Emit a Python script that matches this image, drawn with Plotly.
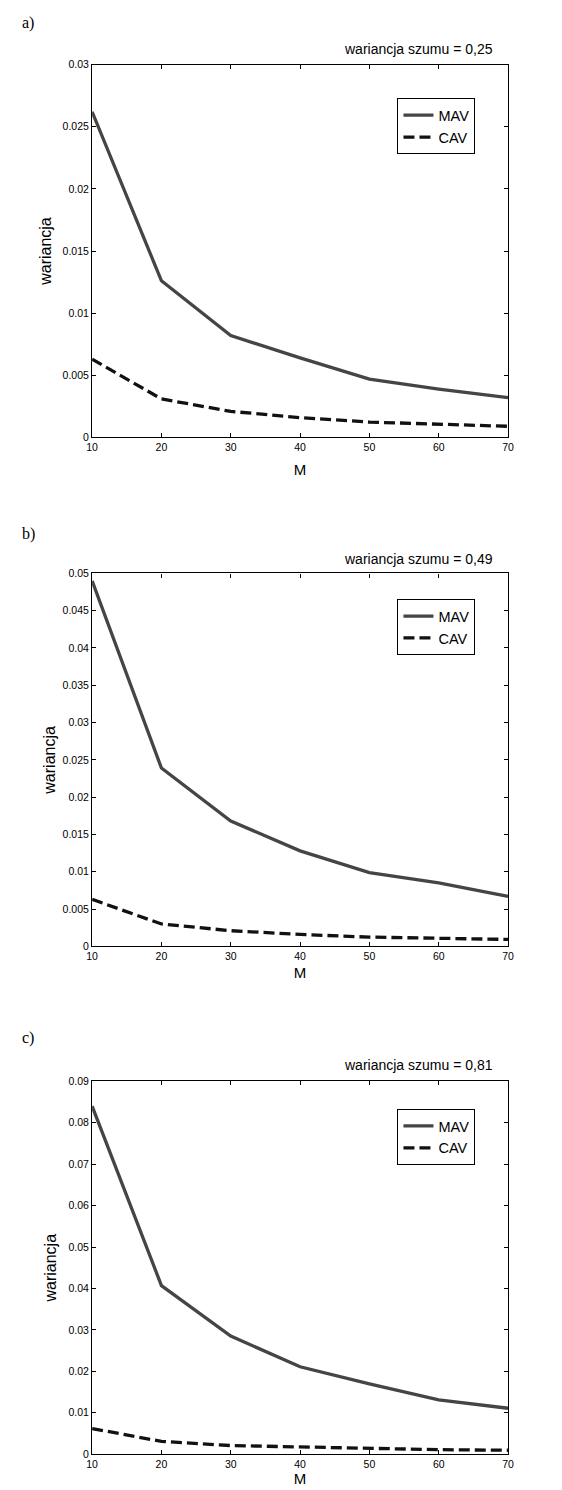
import plotly.graph_objects as go

# ---------------- data ----------------
M = [10, 20, 30, 40, 50, 60, 70]

mav_a = [0.0262, 0.0126, 0.0082, 0.0064, 0.0047, 0.0039, 0.0032]
cav_a = [0.0063, 0.0031, 0.0021, 0.0016, 0.00124, 0.00107, 0.0009]

mav_b = [0.0490, 0.0239, 0.0168, 0.0128, 0.0099, 0.0085, 0.0067]
cav_b = [0.0063, 0.0030, 0.0021, 0.0016, 0.00124, 0.00106, 0.00093]

mav_c = [0.0840, 0.0407, 0.0285, 0.0211, 0.0170, 0.0131, 0.0111]
cav_c = [0.0062, 0.0031, 0.0021, 0.00175, 0.00135, 0.0011, 0.00096]

x_ticks = [10, 20, 30, 40, 50, 60, 70]

y_ticks_a = [0, 0.005, 0.01, 0.015, 0.02, 0.025, 0.03]
y_text_a = ["0", "0.005", "0.01", "0.015", "0.02", "0.025", "0.03"]
y_ticks_b = [0, 0.005, 0.01, 0.015, 0.02, 0.025, 0.03, 0.035, 0.04, 0.045, 0.05]
y_text_b = ["0", "0.005", "0.01", "0.015", "0.02", "0.025", "0.03", "0.035", "0.04", "0.045", "0.05"]
y_ticks_c = [0, 0.01, 0.02, 0.03, 0.04, 0.05, 0.06, 0.07, 0.08, 0.09]
y_text_c = ["0", "0.01", "0.02", "0.03", "0.04", "0.05", "0.06", "0.07", "0.08", "0.09"]

panel_labels = ["a)", "b)", "c)"]
panel_titles = ["wariancja szumu = 0,25", "wariancja szumu = 0,49", "wariancja szumu = 0,81"]
series_names = ["MAV", "CAV"]
y_title = "wariancja"
x_title = "M"

# ---------------- layout geometry (pixels) ----------------
W, H = 562, 1490
PX_L, PX_R = 88, 513
panels_px = [  # (top, bottom) of plot area
    (59, 435),
    (572, 948),
    (1084, 1460),
]
label_y = [17, 532, 1040]
title_y = [43, 557, 1068]
legend_top = [93, 598, 1112]
y_standoff = [6, 2, 7]
x_standoff = [12, 6, 2]

def py(v):
    return 1 - v / H

fig = go.Figure()

data = [(mav_a, cav_a, y_ticks_a, y_text_a, 0.03),
        (mav_b, cav_b, y_ticks_b, y_text_b, 0.05),
        (mav_c, cav_c, y_ticks_c, y_text_c, 0.09)]

MAV_COLOR = "#454545"
CAV_COLOR = "#111111"
FONT = "Liberation Sans, Arial, sans-serif"

for i, (mav, cav, yt, ytt, ymax) in enumerate(data):
    n = "" if i == 0 else str(i + 1)
    leg = "legend" if i == 0 else f"legend{i+1}"
    fig.add_trace(go.Scatter(x=M, y=mav, mode="lines", name=series_names[0],
                             line=dict(color=MAV_COLOR, width=3.3),
                             xaxis=f"x{n}", yaxis=f"y{n}", legend=leg))
    fig.add_trace(go.Scatter(x=M, y=cav, mode="lines", name=series_names[1],
                             line=dict(color=CAV_COLOR, width=3.3, dash="11px,5px"),
                             xaxis=f"x{n}", yaxis=f"y{n}", legend=leg))
    top, bot = panels_px[i]
    axis_common = dict(showline=True, linecolor="black", linewidth=1.3, mirror="ticks",
                       ticks="inside", ticklen=4, tickcolor="black", tickwidth=1,
                       showgrid=False, zeroline=False,
                       tickfont=dict(family=FONT, size=10.5, color="black"))
    fig.update_layout(**{
        f"xaxis{n}": dict(domain=[PX_L / W, PX_R / W], anchor=f"y{n}",
                          range=[10, 70], tickvals=x_ticks,
                          title=dict(text=x_title, font=dict(family=FONT, size=15, color="black"),
                                     standoff=x_standoff[i]),
                          **axis_common),
        f"yaxis{n}": dict(domain=[py(bot), py(top)], anchor=f"x{n}",
                          range=[0, ymax], tickvals=yt, ticktext=ytt,
                          title=dict(text=y_title, font=dict(family=FONT, size=16, color="black"),
                                     standoff=y_standoff[i]),
                          **axis_common),
        leg: dict(x=400 / W, y=py(legend_top[i]), xanchor="left", yanchor="top",
                  bordercolor="black", borderwidth=1, bgcolor="white",
                  font=dict(family=FONT, size=14.5, color="black"),
                  itemwidth=30, tracegroupgap=0),
    })
    fig.add_annotation(text=panel_titles[i], xref="paper", yref="paper",
                       x=500 / W, y=py(title_y[i]), xanchor="right", yanchor="middle",
                       showarrow=False, font=dict(family=FONT, size=14, color="black"))
    fig.add_annotation(text=panel_labels[i], xref="paper", yref="paper",
                       x=14 / W, y=py(label_y[i]), xanchor="left", yanchor="middle",
                       showarrow=False,
                       font=dict(family="Liberation Serif, Times New Roman, serif", size=16, color="black"))

fig.update_layout(width=W, height=H, margin=dict(l=0, r=0, t=0, b=0),
                  paper_bgcolor="white", plot_bgcolor="white",
                  font=dict(family=FONT, color="black"))

fig.write_html("out.html",
               config={"displayModeBar": False},
               post_script="document.body.style.margin='0';document.body.style.padding='0';"
                           "document.documentElement.style.overflow='hidden';")
